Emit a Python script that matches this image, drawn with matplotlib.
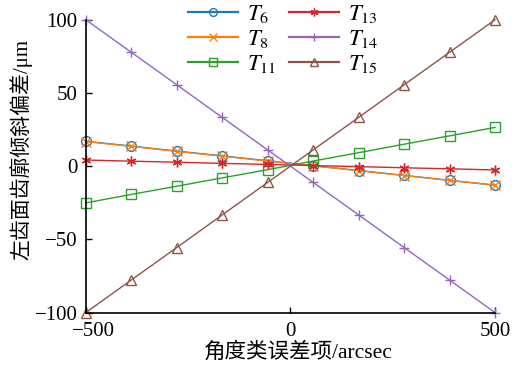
import matplotlib.pyplot as plt
import matplotlib.transforms as mtransforms
import numpy as np

plt.rcParams['font.family'] = ['Liberation Serif', 'Noto Sans CJK SC']
plt.rcParams['mathtext.fontset'] = 'stix'

# angular error term (arcsec)
x = np.linspace(-500, 500, 10)

# left flank profile slope deviation (um) for each tooth
t6 = [17.0, 13.7, 10.3, 7.0, 3.7, 0.3, -3.0, -6.3, -9.7, -13.0]
t8 = [16.8, 13.5, 10.1, 6.8, 3.5, 0.2, -3.1, -6.4, -9.7, -13.0]
t11 = [-25.1, -19.3, -13.7, -8.0, -2.4, 3.5, 9.2, 15.0, 20.7, 26.5]
t13 = [4.2, 3.4, 2.7, 1.9, 1.2, 0.4, -0.3, -1.1, -1.8, -2.6]
t14 = [100.0, 77.8, 55.6, 33.3, 11.1, -11.1, -33.3, -55.6, -77.8, -100.0]
t15 = [-100.0, -77.8, -55.6, -33.3, -11.1, 11.1, 33.3, 55.6, 77.8, 100.0]

series = [t6, t8, t11, t13, t14, t15]
labels = ['$T_{6}$', '$T_{8}$', '$T_{11}$', '$T_{13}$', '$T_{14}$', '$T_{15}$']
markers = ['o', 'x', 's', (6, 2, 0), '+', '^']

fig = plt.figure(figsize=(5.2, 3.66), dpi=100)
ax = fig.add_axes([0.165, 0.146, 0.787, 0.8])

for i in range(len(series)):
    ax.plot(x, series[i], color='C' + str(i), marker=markers[i], markersize=7,
            markerfacecolor='none', linewidth=1.0, markeredgewidth=1.0,
            label=labels[i], clip_on=False)

ax.set_xlim(-500, 500)
ax.set_ylim(-100, 100)
ax.set_xticks([-500, 0, 500])
ax.set_yticks([-100, -50, 0, 50, 100])
ax.spines['top'].set_visible(False)
ax.spines['right'].set_visible(False)
ax.spines['left'].set_linewidth(1.2)
ax.spines['bottom'].set_linewidth(1.2)
ax.tick_params(direction='in', length=4, width=1, labelsize=15)
ax.tick_params(axis='x', pad=7)
ax.tick_params(axis='y', pad=6)

# nudge the leftmost x tick label off the -100 label
shift = mtransforms.ScaledTranslation(8 / 100, 0, fig.dpi_scale_trans)
first = ax.get_xticklabels()[0]
first.set_transform(first.get_transform() + shift)

ax.set_xlabel('角度类误差项/arcsec', fontsize=15.5)
ax.set_ylabel('左齿面齿廓倾斜偏差/μm', fontsize=15)
ax.xaxis.set_label_coords(0.52, -0.1)
ax.yaxis.set_label_coords(-0.13, 0.557)

leg = fig.legend(loc='upper left', bbox_to_anchor=(0.33, 1.035), ncol=2,
                 frameon=False, fontsize=16.5, handlelength=2.2, columnspacing=0.55,
                 labelspacing=0.12, handletextpad=0.4, borderpad=0.2,
                 markerscale=0.8)
for h in leg.legend_handles:
    h.set_linewidth(1.6)

fig.savefig('out.png', dpi=100)
